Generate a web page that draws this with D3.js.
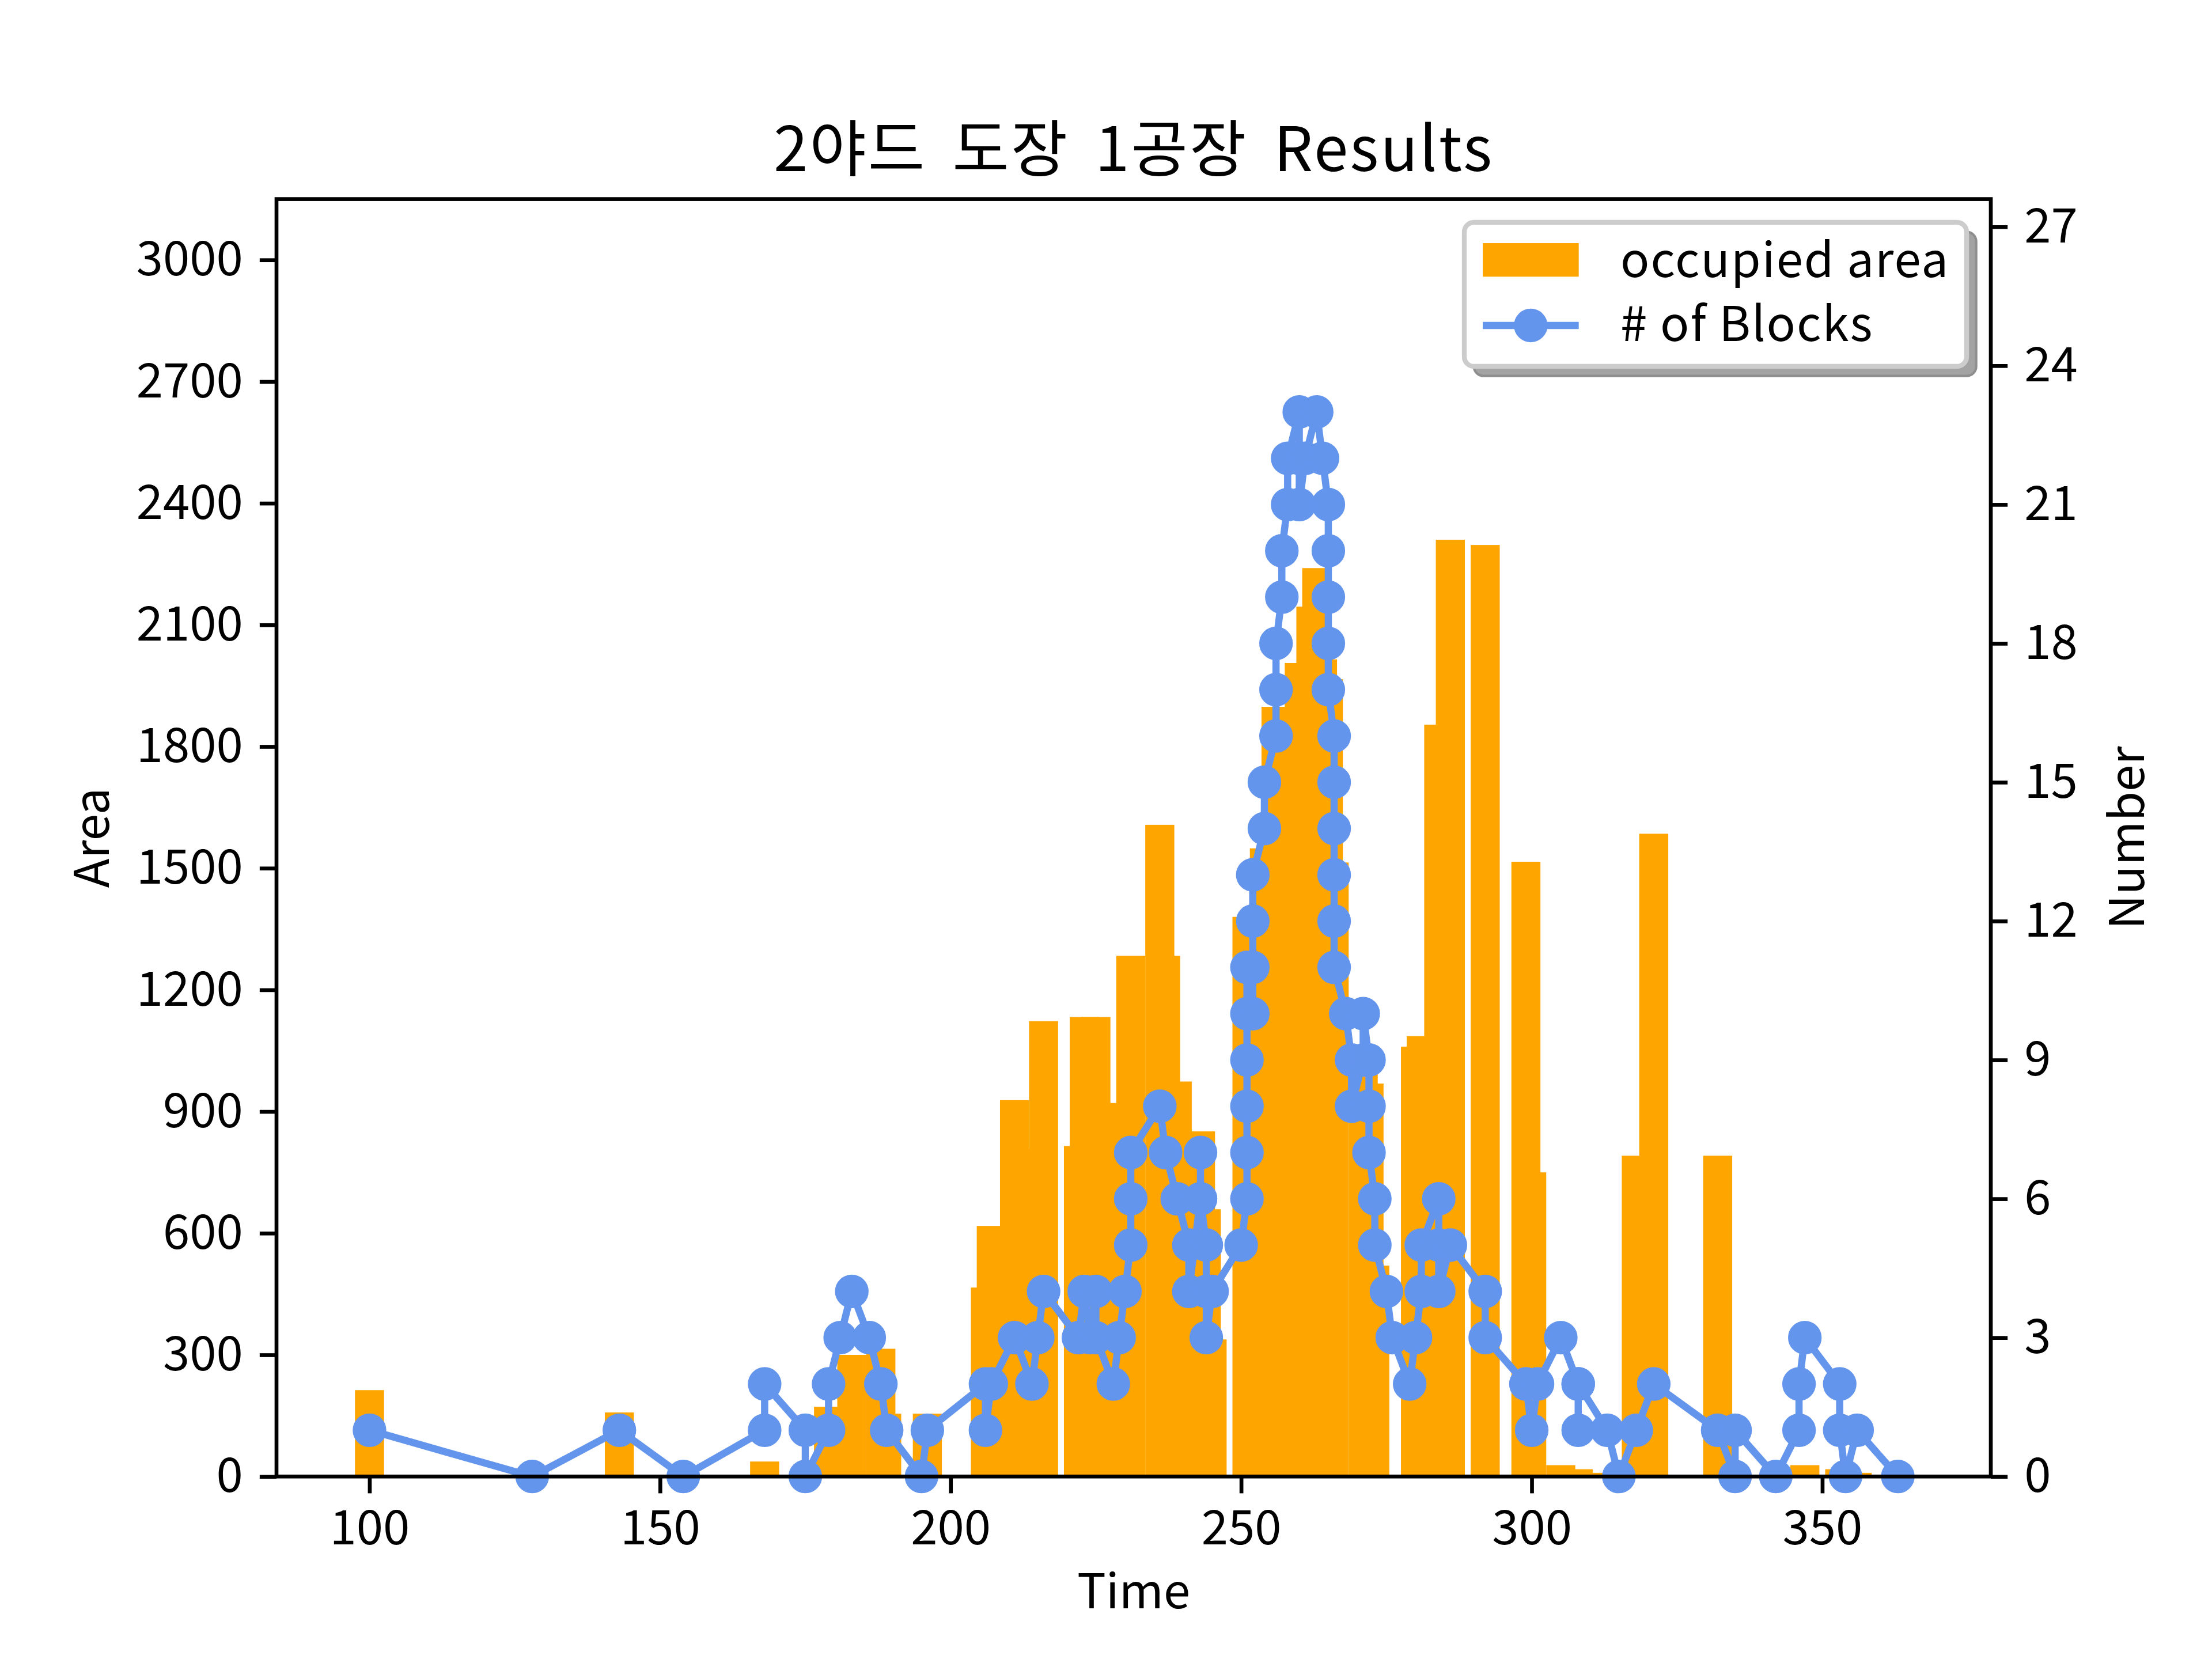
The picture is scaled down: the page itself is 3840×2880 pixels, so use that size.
<!DOCTYPE html>
<html>
<head>
<meta charset="utf-8">
<script src="https://cdn.jsdelivr.net/npm/d3@7"></script>
<style>
  html, body { margin: 0; padding: 0; background: #ffffff; }
  text { font-family: "Noto Sans CJK KR", "Noto Sans", sans-serif; }
</style>
</head>
<body>
<div id="chart"></div>
<script>

// occupied area per event time (bar centre, area)
var barTimes = [100, 128, 143, 154, 168, 175, 179, 183, 188, 189, 195, 196,
  206, 207, 211, 214, 216, 222, 223, 225, 228, 231, 236, 237, 239, 243, 244, 245,
  251, 254, 256, 260, 262, 263, 264, 265, 266, 271, 272, 273,
  280, 281, 284, 286, 292, 299, 300, 305, 308, 313, 318, 321, 332, 335, 342,
  347, 353, 356, 363];
var barAreas = [213, 0, 158, 0, 37, 18, 172, 300, 315, 155, 0, 155,
  466, 618, 928, 808, 1123, 815, 1133, 1133, 921, 1284, 1607, 1284, 974, 851, 659, 338,
  1380, 1549, 1898, 2006, 2145, 2240, 2015, 1966, 1514, 1063, 969, 520,
  1060, 1086, 1854, 2310, 2297, 1516, 750, 28, 18, 9, 791, 1585, 791, 0, 0,
  28, 18, 9, 0];

// number of blocks in the yard, in logged order
var blockTimes = [100, 128, 143, 154,
  168, 168, 175, 175, 179, 179, 181, 183, 186, 188, 189, 195, 196,
  206, 206, 207, 211, 214, 215, 216,
  222, 223, 224, 225, 225, 228, 229, 230, 231, 231, 231,
  236, 237, 239, 241, 241, 243, 243, 243, 244, 244, 244, 245,
  250, 251, 251, 251, 251, 251, 251,
  252, 252, 252, 252, 254, 254, 256, 256, 256,
  257, 257, 258, 258, 260, 260, 260, 261, 263, 264,
  265, 265, 265, 265, 265, 266, 266, 266, 266, 266, 266,
  268, 269, 269, 271, 271, 272, 272, 272, 273, 273,
  275, 276, 279, 280, 281, 281, 284, 284, 284, 286,
  292, 292, 299, 300, 301, 305, 308, 308, 308, 313,
  315, 318, 321, 332, 335, 335, 342, 346, 346, 347,
  353, 353, 354, 356, 363];
var blockCounts = [1, 0, 1, 0,
  1, 2, 1, 0, 1, 2, 3, 4, 3, 2, 1, 0, 1,
  2, 1, 2, 3, 2, 3, 4,
  3, 4, 3, 4, 3, 2, 3, 4, 5, 6, 7,
  8, 7, 6, 5, 4, 6, 7, 6, 5, 4, 3, 4,
  5, 6, 7, 8, 9, 10, 11,
  10, 11, 12, 13, 14, 15, 16, 17, 18,
  19, 20, 21, 22, 23, 22, 21, 22, 23, 22,
  21, 20, 19, 18, 17, 16, 15, 14, 13, 12, 11,
  10, 9, 8, 9, 10, 9, 8, 7, 6, 5,
  4, 3, 2, 3, 4, 5, 6, 5, 4, 5,
  4, 3, 2, 1, 2, 3, 2, 1, 2, 1,
  0, 1, 2, 1, 0, 1, 0, 1, 2, 3,
  2, 1, 0, 1, 0];

var timeTicks = [100, 150, 200, 250, 300, 350];
var areaTicks = [0, 300, 600, 900, 1200, 1500, 1800, 2100, 2400, 2700, 3000];
var numberTicks = [0, 3, 6, 9, 12, 15, 18, 21, 24, 27];

var titleText = '2야드 도장 1공장 Results';
var legendLabels = ['occupied area', '# of Blocks'];

var width = 3840;
var height = 2880;
var plot = { left: 480, right: 3456, top: 345.6, bottom: 2563.2 };
var barWidth = 5;
var areaColor = '#ffa500';
var blockColor = '#6495ed';
var pt = 600 / 72;

var svg = d3.select('#chart')
  .append('svg')
  .attr('width', width)
  .attr('height', height);

var x = d3.scaleLinear()
  .domain([84, 379])
  .range([plot.left, plot.right]);

var yArea = d3.scaleLinear()
  .domain([0, 3150])
  .range([plot.bottom, plot.top]);

var yCount = d3.scaleLinear()
  .domain([0, 27.6])
  .range([plot.bottom, plot.top]);

var bars = barTimes.map(function (t, i) {
  return { t: t, area: barAreas[i] };
});

svg.append('g')
  .selectAll('rect')
  .data(bars)
  .enter()
  .append('rect')
  .attr('x', function (d) {
    return x(d.t - barWidth / 2);
  })
  .attr('y', function (d) {
    return yArea(d.area);
  })
  .attr('width', function (d) {
    return x(d.t + barWidth / 2) - x(d.t - barWidth / 2);
  })
  .attr('height', function (d) {
    return yArea(0) - yArea(d.area);
  })
  .attr('fill', areaColor);

var points = blockTimes.map(function (t, i) {
  return { t: t, n: blockCounts[i] };
});

var line = d3.line()
  .x(function (d) { return x(d.t); })
  .y(function (d) { return yCount(d.n); });

svg.append('path')
  .datum(points)
  .attr('d', line)
  .attr('fill', 'none')
  .attr('stroke', blockColor)
  .attr('stroke-width', 1.5 * pt)
  .attr('stroke-linejoin', 'round');

svg.append('g')
  .selectAll('circle')
  .data(points)
  .enter()
  .append('circle')
  .attr('cx', function (d) { return x(d.t); })
  .attr('cy', function (d) { return yCount(d.n); })
  .attr('r', 3 * pt)
  .attr('fill', blockColor)
  .attr('stroke', blockColor)
  .attr('stroke-width', pt);

// axes
var tickLen = 3.5 * pt;
var tickFont = 10 * pt;

var styleAxis = function (g) {
  g.select('.domain').remove();
  g.selectAll('.tick line')
    .attr('stroke', '#000')
    .attr('stroke-width', 0.8 * pt);
  g.selectAll('.tick text')
    .attr('fill', '#000')
    .style('font-size', tickFont + 'px')
    .style('font-family', '"Noto Sans CJK KR", "Noto Sans", sans-serif');
};

svg.append('g')
  .attr('transform', 'translate(0,' + plot.bottom + ')')
  .call(d3.axisBottom(x).tickValues(timeTicks).tickSize(tickLen).tickPadding(tickLen).tickSizeOuter(0))
  .call(styleAxis);

svg.append('g')
  .attr('transform', 'translate(' + plot.left + ',0)')
  .call(d3.axisLeft(yArea).tickValues(areaTicks).tickFormat(d3.format('d')).tickSize(tickLen).tickPadding(tickLen).tickSizeOuter(0))
  .call(styleAxis);

svg.append('g')
  .attr('transform', 'translate(' + plot.right + ',0)')
  .call(d3.axisRight(yCount).tickValues(numberTicks).tickSize(tickLen).tickPadding(tickLen).tickSizeOuter(0))
  .call(styleAxis);

svg.append('rect')
  .attr('x', plot.left)
  .attr('y', plot.top)
  .attr('width', plot.right - plot.left)
  .attr('height', plot.bottom - plot.top)
  .attr('fill', 'none')
  .attr('stroke', '#000')
  .attr('stroke-width', 0.8 * pt);

// labels
svg.append('text')
  .attr('x', (plot.left + plot.right) / 2)
  .attr('y', 2792)
  .attr('text-anchor', 'middle')
  .style('font-size', tickFont + 'px')
  .text('Time');

svg.append('text')
  .attr('transform', 'translate(189,' + (plot.top + plot.bottom) / 2 + ') rotate(-90)')
  .attr('text-anchor', 'middle')
  .style('font-size', tickFont + 'px')
  .text('Area');

svg.append('text')
  .attr('transform', 'translate(3722,' + (plot.top + plot.bottom) / 2 + ') rotate(-90)')
  .attr('text-anchor', 'middle')
  .style('font-size', tickFont + 'px')
  .text('Number');

svg.append('text')
  .attr('x', (plot.left + plot.right) / 2)
  .attr('y', 297)
  .attr('text-anchor', 'middle')
  .style('font-size', '107px')
  .style('word-spacing', '18px')
  .style('letter-spacing', '3px')
  .text(titleText);

// legend with shadow
var legend = { x: 2542, y: 386, w: 872, h: 250 };
var legendG = svg.append('g');

legendG.append('rect')
  .attr('x', legend.x + 2 * pt)
  .attr('y', legend.y + 2 * pt)
  .attr('width', legend.w)
  .attr('height', legend.h)
  .attr('rx', 0.2 * tickFont)
  .attr('fill', '#a3a3a3')
  .attr('stroke', '#8e8e8e')
  .attr('stroke-width', 0.5 * pt);

legendG.append('rect')
  .attr('x', legend.x)
  .attr('y', legend.y)
  .attr('width', legend.w)
  .attr('height', legend.h)
  .attr('rx', 0.2 * tickFont)
  .attr('fill', '#ffffff')
  .attr('stroke', '#cccccc')
  .attr('stroke-width', pt);

legendG.append('rect')
  .attr('x', 2574)
  .attr('y', 422)
  .attr('width', 2 * tickFont)
  .attr('height', 0.7 * tickFont)
  .attr('fill', areaColor);

legendG.append('line')
  .attr('x1', 2574)
  .attr('x2', 2574 + 2 * tickFont)
  .attr('y1', 565)
  .attr('y2', 565)
  .attr('stroke', blockColor)
  .attr('stroke-width', 1.5 * pt);

legendG.append('circle')
  .attr('cx', 2574 + tickFont)
  .attr('cy', 565)
  .attr('r', 3 * pt)
  .attr('fill', blockColor)
  .attr('stroke', blockColor)
  .attr('stroke-width', pt);

legendG.selectAll('text.item')
  .data(legendLabels)
  .enter()
  .append('text')
  .attr('class', 'item')
  .attr('x', 2813)
  .attr('y', function (d, i) {
    return 481 + i * 111;
  })
  .style('font-size', tickFont + 'px')
  .style('letter-spacing', '2px')
  .text(function (d) { return d; });

</script>
</body>
</html>
